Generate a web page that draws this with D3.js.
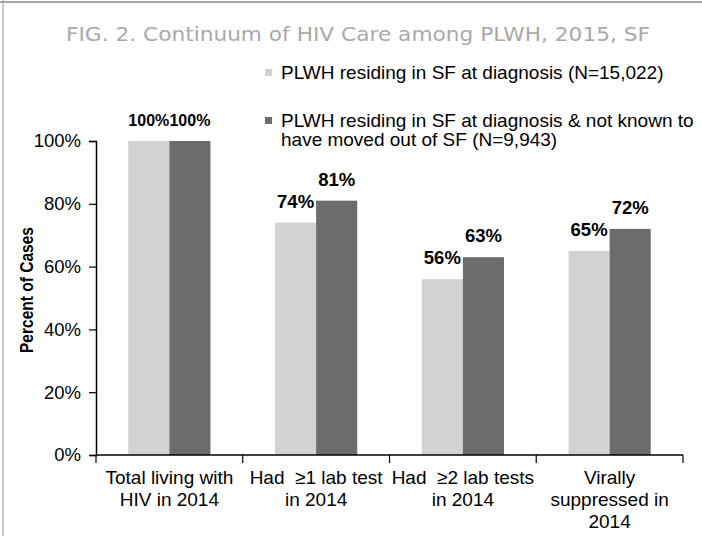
<!DOCTYPE html>
<html>
<head>
<style>
body { margin: 0; background: #fff; }
svg { display: block; font-family: "Liberation Sans", Arial, sans-serif; }
</style>
</head>
<body>
<div id="chart"></div>
<script src="https://d3js.org/d3.v7.min.js"></script>
<script>
// data
var categories = ["Total living with HIV in 2014", "Had ≥1 lab test in 2014", "Had ≥2 lab tests in 2014", "Virally suppressed in 2014"]
var catLines = [["Total living with", "HIV in 2014"], ["Had  ≥1 lab test", "in 2014"], ["Had  ≥2 lab tests", "in 2014"], ["Virally", "suppressed in", "2014"]]
var seriesNames = ["PLWH residing in SF at diagnosis (N=15,022)", "PLWH residing in SF at diagnosis & not known to have moved out of SF (N=9,943)"]
var residingAtDx = [100, 74, 56, 65]
var notMovedOut = [100, 81, 63, 72]
var yTicks = [0, 20, 40, 60, 80, 100]

function draw() {
var width = 702, height = 536
var colors = ["#d2d2d2", "#6c6c6c"]

var svg = d3.select("#chart").append("svg")
  .attr("width", width)
  .attr("height", height)

// scanned frame edges
svg.append("line").attr("x1", 0).attr("x2", width).attr("y1", 2).attr("y2", 2)
  .attr("stroke", "#8a8a8a").attr("stroke-width", 1.5)
svg.append("line").attr("x1", 3).attr("x2", 3).attr("y1", 0).attr("y2", height)
  .attr("stroke", "#9a9a9a").attr("stroke-width", 1)

// title (faded in the scan)
svg.append("text")
  .attr("x", 66).attr("y", 41)
  .attr("textLength", 584).attr("lengthAdjust", "spacingAndGlyphs")
  .style("font-family", "'DejaVu Sans', sans-serif")
  .style("font-size", "19px")
  .style("fill", "#a9a9a9")
  .text("FIG. 2. Continuum of HIV Care among PLWH, 2015, SF")

var pLeft = 96, pRight = 683, pTop = 141, pBottom = 455

var x0 = d3.scaleBand().domain(categories).range([pLeft, pRight]).paddingInner(0.44).paddingOuter(0.22)
var x1 = d3.scaleBand().domain([0, 1]).range([0, x0.bandwidth()])
var y = d3.scaleLinear().domain([0, 100]).range([pBottom, pTop])

var rows = categories.map(function(c, i) { return {cat: c, i: i, vals: [residingAtDx[i], notMovedOut[i]]} })

// bars
var groups = svg.selectAll(".grp").data(rows).enter().append("g")
  .attr("transform", function(d) { return "translate(" + x0(d.cat) + ",0)" })

groups.selectAll("rect").data(function(d) { return d.vals.map(function(v, k) { return {k: k, v: v} }) })
  .enter().append("rect")
  .attr("x", function(d) { return x1(d.k) })
  .attr("y", function(d) { return y(d.v) })
  .attr("width", x1.bandwidth())
  .attr("height", function(d) { return y(0) - y(d.v) })
  .attr("fill", function(d) { return colors[d.k] })

// value labels
groups.each(function(d) {
  d3.select(this).selectAll("text.val").data(d.vals).enter().append("text")
    .attr("class", "val")
    .attr("x", function(v, k) { return x1(k) + x1.bandwidth() / 2 })
    .attr("y", function(v) { return y(v) - 15 })
    .attr("text-anchor", "middle")
    .style("font-weight", "bold")
    .style("font-size", d.i == 0 ? "16px" : "18.5px")
    .text(function(v) { return v + "%" })
})

// y axis
var yAxis = svg.append("g")
  .attr("transform", "translate(" + pLeft + ",0)")
  .call(d3.axisLeft(y).tickValues(yTicks).tickFormat(function(d) { return d + "%" }).tickSize(7).tickPadding(8))
yAxis.select(".domain").attr("stroke", "#000").attr("stroke-width", 1.5)
yAxis.selectAll(".tick line").attr("stroke", "#000").attr("stroke-width", 1.2)
yAxis.selectAll("text").style("font-size", "18.5px").style("font-family", "'Liberation Sans', Arial, sans-serif").attr("fill", "#000")

// x axis with ticks at group boundaries
var xAxisG = svg.append("g").attr("transform", "translate(0," + pBottom + ")")
xAxisG.append("line").attr("x1", pLeft).attr("x2", pRight).attr("stroke", "#000").attr("stroke-width", 1.5)
var bounds = categories.map(function(c) { return x0(c) - x0.step() * 0.22 }).concat([pRight])
xAxisG.selectAll(".tk").data(bounds).enter().append("line")
  .attr("x1", function(d) { return d }).attr("x2", function(d) { return d })
  .attr("y1", 0).attr("y2", 8)
  .attr("stroke", "#000").attr("stroke-width", 1.2)

// category labels
rows.forEach(function(d) {
  var t = svg.append("text")
    .attr("text-anchor", "middle")
    .style("font-size", "19px")
    .style("white-space", "pre")
  catLines[d.i].forEach(function(line, j) {
    t.append("tspan")
      .attr("x", x0(d.cat) + x0.bandwidth() / 2)
      .attr("y", 484 + j * 22)
      .text(line)
  })
})

// y axis title
svg.append("text")
  .attr("transform", "translate(33,290) rotate(-90)")
  .attr("text-anchor", "middle")
  .style("font-weight", "bold")
  .style("font-size", "18.5px")
  .attr("textLength", 126).attr("lengthAdjust", "spacingAndGlyphs")
  .text("Percent of Cases")

// legend
var legendLines = [[seriesNames[0]], ["PLWH residing in SF at diagnosis & not known to", "have moved out of SF (N=9,943)"]]
var legendY = [79, 127]
legendLines.forEach(function(lines, k) {
  svg.append("rect")
    .attr("x", 265).attr("y", legendY[k] - 10)
    .attr("width", 7).attr("height", 7)
    .attr("fill", colors[k])
  var t = svg.append("text").style("font-size", "19px")
  lines.forEach(function(line, j) {
    t.append("tspan").attr("x", 281).attr("y", legendY[k] + j * 19).text(line)
  })
})
}

draw()
</script>
</body>
</html>
